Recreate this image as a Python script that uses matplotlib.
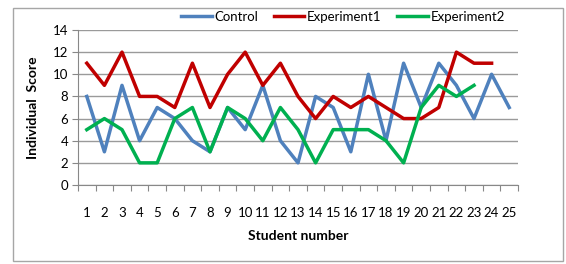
import numpy as np
import matplotlib
matplotlib.use("Agg")
import matplotlib.pyplot as plt
from matplotlib.patches import Rectangle

students = list(range(1, 26))
control = [8, 3, 9, 4, 7, 6, 4, 3, 7, 5, 9, 4, 2, 8, 7, 3, 10, 4, 11, 7, 11, 9, 6, 10, 7]
experiment1 = [11, 9, 12, 8, 8, 7, 11, 7, 10, 12, 9, 11, 8, 6, 8, 7, 8, 7, 6, 6, 7, 12, 11, 11]
experiment2 = [5, 6, 5, 2, 2, 6, 7, 3, 7, 6, 4, 7, 5, 2, 5, 5, 5, 4, 2, 7, 9, 8, 9]
y_ticks = [0, 2, 4, 6, 8, 10, 12, 14]

plt.rcParams["font.family"] = ["Lato", "DejaVu Sans"]

fig = plt.figure(figsize=(5.66, 2.64), dpi=100)
ax = fig.add_axes([78 / 566, 1 - 185 / 264, 440 / 566, 155 / 264])

# outer chart border
fig.patches.append(Rectangle((13 / 566, 3 / 264), 550 / 566, 253 / 264, transform=fig.transFigure,
                             fill=False, edgecolor="#a6a6a6", linewidth=1.0))

ax.plot(students[:len(control)], control, color="#4F81BD", lw=2.5, label="Control")
ax.plot(students[:len(experiment1)], experiment1, color="#C00000", lw=2.5, label="Experiment1")
ax.plot(students[:len(experiment2)], experiment2, color="#00B050", lw=2.5, label="Experiment2")

ax.set_xlim(0.5, 25.5)
ax.set_ylim(0, 14)
ax.set_yticks(y_ticks)
ax.set_yticklabels([str(v) for v in y_ticks], fontsize=9.5)
ax.set_xticks(students)
ax.set_xticklabels([str(s) for s in students], fontsize=9.5)
ax.set_xticks(np.arange(0.5, 26, 1), minor=True)
ax.tick_params(axis="x", which="major", length=0, pad=16)
ax.tick_params(axis="x", which="minor", length=4, color="#888888", width=0.8)
ax.tick_params(axis="y", length=4, color="#888888", width=0.8, pad=3)

ax.grid(axis="y", color="#9a9a9a", linewidth=1.0)
ax.set_axisbelow(True)
for side in ["top", "right"]:
    ax.spines[side].set_visible(False)
for side in ["left", "bottom"]:
    ax.spines[side].set_color("#888888")
    ax.spines[side].set_linewidth(0.8)

ax.set_xlabel("Student number", fontsize=10, fontweight="bold", labelpad=8)
ax.set_ylabel("Individual  Score", fontsize=10, fontweight="bold", labelpad=10)

fig.legend(loc="center", bbox_to_anchor=(343 / 566, 1 - 17 / 264), ncol=3, frameon=False,
           fontsize=9.5, handlelength=2.3, handletextpad=0.2, columnspacing=1.2)

fig.savefig("out.png", dpi=100)
